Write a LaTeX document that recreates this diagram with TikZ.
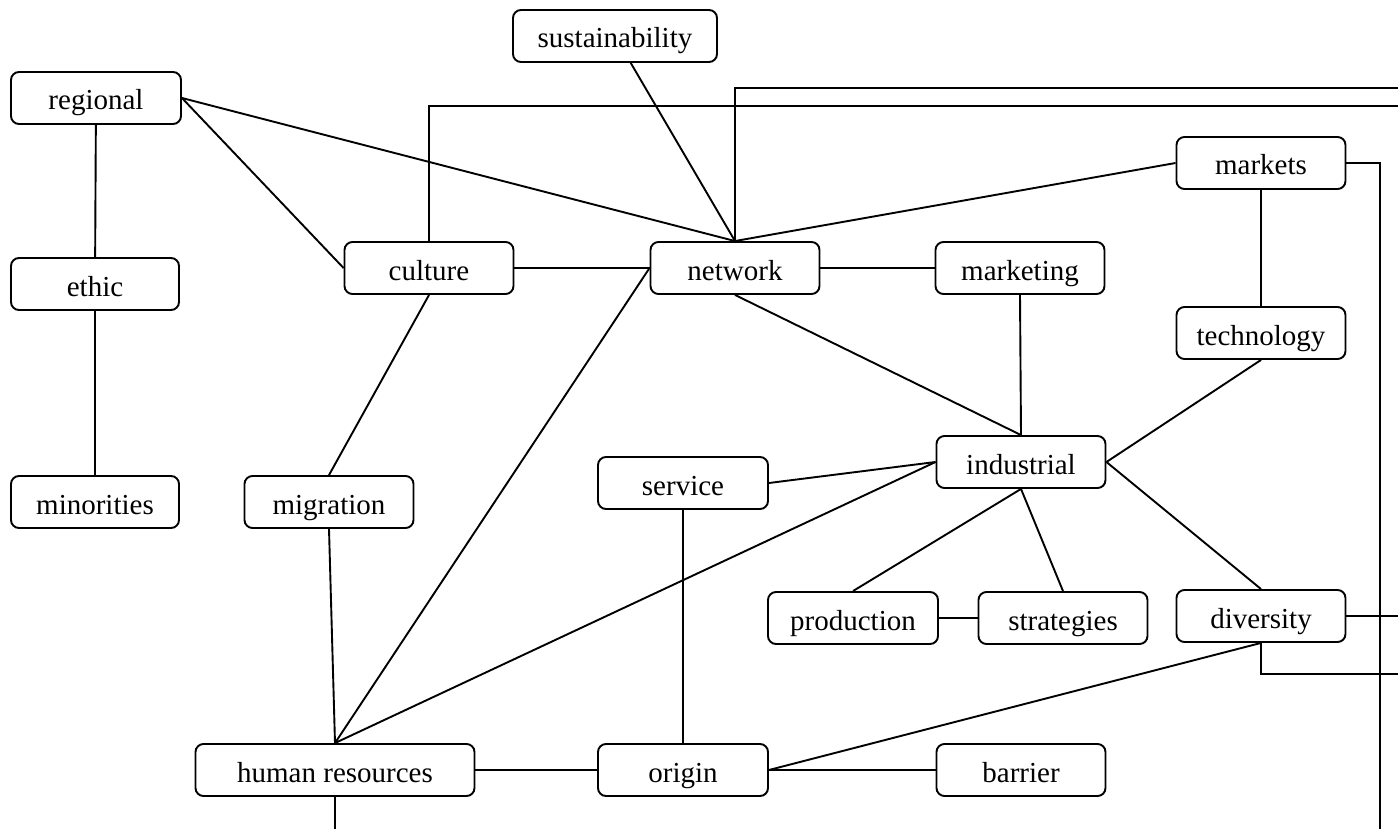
\documentclass[tikz,border=0pt]{standalone}
\usepackage{fontspec}
\setmainfont{Liberation Serif}
\begin{document}
\begin{tikzpicture}[x=1pt,y=-1pt,
  concept/.style={draw, rounded corners=8pt, line width=1.9pt, minimum height=52pt,
    minimum width=169pt, inner sep=0pt, text height=24pt, text depth=0pt,
    font=\fontsize{29}{35}\selectfont},
  link/.style={line width=1.9pt}]
\useasboundingbox (0,0) rectangle (1398,829);

% concepts
\node[concept, minimum width=204pt] (sust) at (615,36) {sustainability};
\node[concept, minimum width=170pt] (regional) at (96,98) {regional};
\node[concept, minimum width=168pt] (ethic) at (95,284) {ethic};
\node[concept, minimum width=168pt] (minor) at (95,502) {minorities};
\node[concept] (culture) at (429,268) {culture};
\node[concept] (network) at (735,268) {network};
\node[concept] (marketing) at (1020,268) {marketing};
\node[concept] (markets) at (1261,163) {markets};
\node[concept] (tech) at (1261,333) {technology};
\node[concept] (indus) at (1021,462) {industrial};
\node[concept, minimum width=170pt] (service) at (683,483) {service};
\node[concept] (migr) at (329,502) {migration};
\node[concept, minimum width=170pt] (prod) at (853,618) {production};
\node[concept] (strat) at (1063,618) {strategies};
\node[concept] (div) at (1261,616) {diversity};
\node[concept, minimum width=279pt] (hr) at (335,770) {human resources};
\node[concept, minimum width=170pt] (origin) at (683,770) {origin};
\node[concept] (barrier) at (1021,770) {barrier};

% loose ends at the page border
\coordinate (cultureOut) at (1398,106);
\coordinate (networkOut) at (1398,88);
\coordinate (marketsOut) at (1380,829);
\coordinate (divOutA) at (1398,616);
\coordinate (divOutB) at (1398,674);
\coordinate (hrOut) at (335,829);

% straight links
\draw[link] (sust) -- (network.north);
\draw[link] (regional.east) -- (network.north);
\draw[link] (regional.east) -- (culture.west);
\draw[link] (regional) -- (ethic);
\draw[link] (ethic) -- (minor);
\draw[link] (culture) -- (network);
\draw[link] (network) -- (marketing);
\draw[link] (markets.west) -- (network.north);
\draw[link] (markets) -- (tech);
\draw[link] (network.south) -- (indus.north);
\draw[link] (marketing.south) -- (indus.north);
\draw[link] (tech.south) -- (indus.east);
\draw[link] (indus.east) -- (div.north);
\draw[link] (indus.south) -- (prod.north);
\draw[link] (indus.south) -- (strat.north);
\draw[link] (prod) -- (strat);
\draw[link] (service.east) -- (indus.west);
\draw[link] (indus.west) -- (hr.north);
\draw[link] (network.west) -- (hr.north);
\draw[link] (culture.south) -- (migr.north);
\draw[link] (migr.south) -- (hr.north);
\draw[link] (service.south) -- (origin.north);
\draw[link] (hr) -- (origin);
\draw[link] (origin) -- (barrier);
\draw[link] (div.south) -- (origin.east);

% elbow links leaving the page
\draw[link] (culture.north) |- (cultureOut);
\draw[link] (network.north) |- (networkOut);
\draw[link] (markets.east) -| (marketsOut);
\draw[link] (div.east) -- (divOutA);
\draw[link] (div.south) |- (divOutB);
\draw[link] (hr.south) -- (hrOut);
\end{tikzpicture}
\end{document}
